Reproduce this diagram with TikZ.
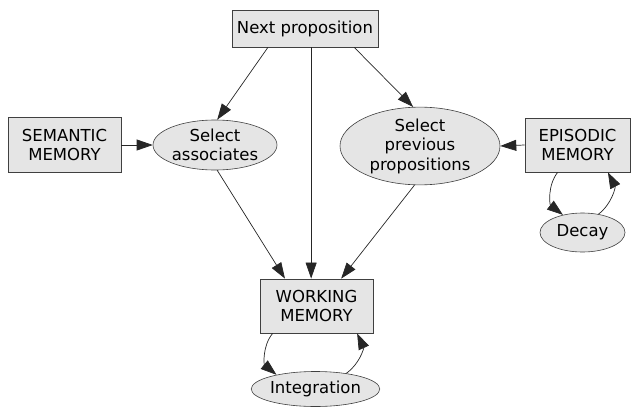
\documentclass[tikz,border=0pt]{standalone}
\usepackage{fontspec}
\setmainfont{DejaVu Sans}
\usepackage{tikz}
\usetikzlibrary{positioning}
\usetikzlibrary{arrows.meta, shapes.geometric}

\tikzset{
  memorybox/.style={draw=black!75, fill=black!10, line width=0.8pt, inner sep=0pt,
    align=center, font=\fontsize{16.5}{19.5}\selectfont},
  selectoval/.style={ellipse, draw=black!75, fill=black!10, line width=0.6pt, inner sep=0pt,
    align=center, font=\fontsize{16.5}{19.5}\selectfont},
  arrowline/.style={draw=black!85, line width=0.7pt, -{Triangle[length=16pt, width=11pt]}}
}

\begin{document}
\begin{tikzpicture}[x=1pt, y=-1pt]
    \useasboundingbox (0,0) rectangle (632,407);

    % draw the boxes
    \node[memorybox, minimum width=146pt, minimum height=37pt] (next) at (305, 28.5) {Next proposition};
    \node[memorybox, minimum width=113pt, minimum height=55pt] (sem) at (64.5, 145) {SEMANTIC\\MEMORY};
    \node[memorybox, minimum width=105pt, minimum height=54pt] (epi) at (577.5, 145) {EPISODIC\\MEMORY};
    \node[memorybox, minimum width=113pt, minimum height=54pt] (work) at (316.5, 306) {WORKING\\MEMORY};

    % draw the ellipses
    \node[selectoval, minimum width=124pt, minimum height=50pt] (assoc) at (215, 145) {Select\\associates};
    \node[selectoval, minimum width=160pt, minimum height=73pt] (prev) at (420, 146) {Select\\previous\\propositions};
    \node[selectoval, minimum width=85pt, minimum height=39pt] (decay) at (582.5, 232.5) {Decay};
    \node[selectoval, minimum width=121pt, minimum height=35pt] (integ) at (315.5, 389) {Integration};

    % draw the arrows from the next proposition
    \draw[arrowline] (next.-153) -- (assoc.85);
    \draw[arrowline] (next.-21) -- (prev.100);
    \draw[arrowline] (next.-72) -- (next.-72 |- work.north);

    % draw the arrows into the selections
    \draw[arrowline] (sem.east) -- (assoc.west);
    \draw[arrowline] (epi.west) -- (prev.east);

    % draw the arrows into working memory
    \draw[arrowline] (assoc.-85) -- (work.139);
    \draw[arrowline] (prev.-98) -- (work.48);

    % draw the loops
    \draw[arrowline] (work.-148) to[bend right=45] (integ.160);
    \draw[arrowline] (integ.27) to[bend right=40] (work.-34);
    \draw[arrowline] (epi.-126) to[bend right=45] (decay.138);
    \draw[arrowline] (decay.49) to[bend right=40] (epi.-42);

\end{tikzpicture}
\end{document}
